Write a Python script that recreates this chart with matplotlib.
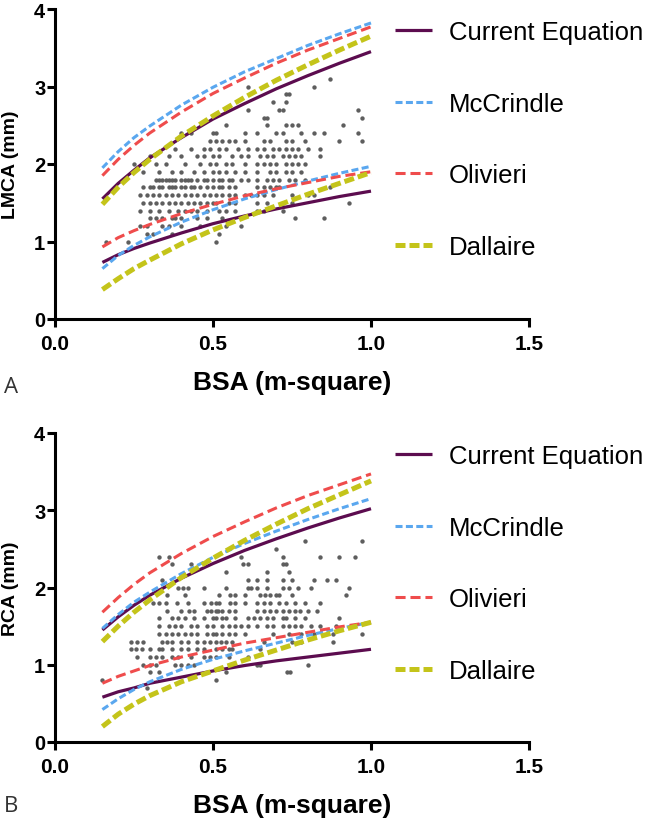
import matplotlib
matplotlib.use("Agg")
import matplotlib.pyplot as plt

plt.rcParams["font.family"] = ["Liberation Sans", "DejaVu Sans"]

# BSA grid where the reference curves were read (m^2)
bsa_grid = [0.15, 0.2, 0.25, 0.3, 0.4, 0.5, 0.6, 0.7, 0.8, 0.9, 1.0]

# Panel A: LMCA (mm), upper / lower limits per equation
lmca_current_up = [1.55, 1.75, 1.92, 2.08, 2.34, 2.58, 2.78, 2.97, 3.14, 3.30, 3.45]
lmca_current_lo = [0.73, 0.83, 0.91, 0.98, 1.11, 1.23, 1.33, 1.42, 1.50, 1.58, 1.65]
lmca_mccrindle_up = [1.95, 2.16, 2.34, 2.49, 2.76, 2.99, 3.19, 3.36, 3.53, 3.68, 3.82]
lmca_mccrindle_lo = [0.65, 0.82, 0.95, 1.06, 1.25, 1.41, 1.55, 1.67, 1.78, 1.88, 1.97]
lmca_olivieri_up = [1.85, 2.06, 2.24, 2.40, 2.67, 2.91, 3.11, 3.30, 3.47, 3.62, 3.77]
lmca_olivieri_lo = [0.93, 1.05, 1.14, 1.22, 1.36, 1.48, 1.59, 1.68, 1.76, 1.84, 1.90]
lmca_dallaire_up = [1.48, 1.70, 1.89, 2.06, 2.36, 2.62, 2.86, 3.08, 3.28, 3.47, 3.65]
lmca_dallaire_lo = [0.38, 0.52, 0.65, 0.76, 0.97, 1.15, 1.31, 1.46, 1.61, 1.75, 1.89]

# Panel B: RCA (mm)
rca_current_up = [1.45, 1.62, 1.77, 1.90, 2.12, 2.31, 2.48, 2.63, 2.77, 2.90, 3.02]
rca_current_lo = [0.58, 0.65, 0.70, 0.76, 0.84, 0.92, 0.99, 1.05, 1.10, 1.15, 1.20]
rca_mccrindle_up = [1.47, 1.65, 1.81, 1.94, 2.18, 2.39, 2.57, 2.73, 2.88, 3.02, 3.15]
rca_mccrindle_lo = [0.42, 0.56, 0.68, 0.78, 0.94, 1.07, 1.18, 1.28, 1.38, 1.47, 1.55]
rca_olivieri_up = [1.68, 1.87, 2.04, 2.19, 2.44, 2.66, 2.85, 3.03, 3.19, 3.33, 3.47]
rca_olivieri_lo = [0.76, 0.85, 0.92, 0.99, 1.10, 1.19, 1.28, 1.35, 1.42, 1.49, 1.55]
rca_dallaire_up = [1.30, 1.50, 1.68, 1.84, 2.13, 2.38, 2.61, 2.82, 3.02, 3.20, 3.38]
rca_dallaire_lo = [0.20, 0.36, 0.49, 0.60, 0.78, 0.92, 1.06, 1.19, 1.32, 1.44, 1.55]

# measured patients: diameter level (mm) -> BSA values on that level
lmca_rows = [
    (3.1, [0.87]),
    (3.0, [0.61, 0.82]),
    (2.9, [0.73, 0.74]),
    (2.8, [0.69, 0.73]),
    (2.7, [0.61, 0.71, 0.72, 0.96]),
    (2.6, [0.66, 0.67, 0.97]),
    (2.5, [0.54, 0.67, 0.73, 0.75, 0.77, 0.91]),
    (2.4, [0.40, 0.43, 0.50, 0.51, 0.60, 0.64, 0.70, 0.72, 0.78, 0.82, 0.85, 0.96]),
    (2.3, [0.49, 0.51, 0.53, 0.55, 0.57, 0.60, 0.66, 0.68, 0.73, 0.75, 0.79, 0.90, 0.97]),
    (2.2, [0.38, 0.43, 0.47, 0.49, 0.52, 0.54, 0.58, 0.61, 0.64, 0.66, 0.69, 0.71,
           0.73, 0.75, 0.77, 0.80, 0.84]),
    (2.1, [0.30, 0.36, 0.40, 0.45, 0.47, 0.50, 0.52, 0.56, 0.59, 0.61, 0.65, 0.67,
           0.69, 0.72, 0.74, 0.76, 0.78, 0.84]),
    (2.0, [0.25, 0.32, 0.35, 0.41, 0.46, 0.49, 0.51, 0.54, 0.56, 0.60, 0.64, 0.66,
           0.68, 0.70, 0.73, 0.75, 0.77, 0.79]),
    (1.9, [0.28, 0.33, 0.37, 0.40, 0.44, 0.47, 0.50, 0.52, 0.54, 0.57, 0.60, 0.64,
           0.68, 0.70, 0.73, 0.75, 0.78]),
    (1.8, [0.32, 0.33, 0.34, 0.35, 0.36, 0.37, 0.38, 0.40, 0.41, 0.42, 0.43, 0.45,
           0.47, 0.48, 0.50, 0.52, 0.53, 0.55, 0.56, 0.59, 0.61, 0.64, 0.67, 0.69,
           0.71, 0.74, 0.76, 0.79]),
    (1.7, [0.28, 0.30, 0.31, 0.33, 0.34, 0.36, 0.37, 0.38, 0.40, 0.41, 0.43, 0.44,
           0.46, 0.48, 0.50, 0.52, 0.53, 0.55, 0.57, 0.64, 0.66, 0.68, 0.70, 0.71, 0.87]),
    (1.6, [0.27, 0.29, 0.31, 0.33, 0.35, 0.37, 0.39, 0.41, 0.43, 0.45, 0.47, 0.49,
           0.51, 0.53, 0.55, 0.57, 0.60, 0.62, 0.64, 0.66, 0.69, 0.75, 0.80, 0.82]),
    (1.5, [0.28, 0.30, 0.32, 0.34, 0.36, 0.38, 0.40, 0.42, 0.44, 0.46, 0.48, 0.50,
           0.51, 0.55, 0.57, 0.64, 0.67, 0.72, 0.75, 0.93]),
    (1.4, [0.27, 0.30, 0.33, 0.36, 0.39, 0.41, 0.43, 0.45, 0.48, 0.52, 0.54, 0.57,
           0.64, 0.66, 0.72]),
    (1.3, [0.30, 0.32, 0.34, 0.37, 0.38, 0.40, 0.45, 0.48, 0.53, 0.76, 0.85]),
    (1.2, [0.27, 0.29, 0.34, 0.36, 0.40, 0.46, 0.54, 0.59]),
    (1.1, [0.29, 0.31, 0.37, 0.52]),
    (1.0, [0.16, 0.23, 0.51]),
]

rca_rows = [
    (2.6, [0.79, 0.97]),
    (2.5, [0.70]),
    (2.4, [0.33, 0.36, 0.59, 0.72, 0.84, 0.90, 0.95]),
    (2.3, [0.37, 0.43, 0.595, 0.61, 0.72, 0.73]),
    (2.2, [0.54, 0.67, 0.74]),
    (2.1, [0.34, 0.61, 0.64, 0.67, 0.72, 0.75, 0.82, 0.86, 0.89]),
    (2.0, [0.39, 0.405, 0.42, 0.47, 0.54, 0.61, 0.62, 0.64, 0.67, 0.72, 0.74, 0.77,
           0.81, 0.93]),
    (1.9, [0.355, 0.41, 0.52, 0.555, 0.57, 0.60, 0.65, 0.665, 0.68, 0.70, 0.71,
           0.75, 0.92]),
    (1.8, [0.31, 0.33, 0.35, 0.385, 0.42, 0.47, 0.495, 0.51, 0.52, 0.555, 0.57,
           0.60, 0.64, 0.66, 0.68, 0.71, 0.73, 0.76, 0.79, 0.84]),
    (1.7, [0.355, 0.40, 0.425, 0.44, 0.48, 0.495, 0.51, 0.515, 0.53, 0.55, 0.57,
           0.64, 0.66, 0.68, 0.70, 0.72, 0.74, 0.76, 0.775, 0.80, 0.83]),
    (1.6, [0.33, 0.37, 0.39, 0.41, 0.44, 0.47, 0.50, 0.51, 0.53, 0.54, 0.57, 0.61,
           0.63, 0.65, 0.67, 0.69, 0.72, 0.73, 0.76, 0.79, 0.90]),
    (1.5, [0.33, 0.36, 0.38, 0.40, 0.43, 0.45, 0.48, 0.50, 0.53, 0.55, 0.57, 0.59,
           0.61, 0.64, 0.67, 0.69, 0.72, 0.74, 0.76, 0.78, 0.81, 0.84, 0.89]),
    (1.4, [0.33, 0.35, 0.37, 0.39, 0.41, 0.43, 0.45, 0.48, 0.50, 0.51, 0.53, 0.55,
           0.57, 0.60, 0.69, 0.74, 0.78, 0.82, 0.88, 0.97]),
    (1.3, [0.24, 0.26, 0.28, 0.34, 0.355, 0.37, 0.40, 0.42, 0.45, 0.47, 0.49, 0.51,
           0.525, 0.54, 0.56, 0.66, 0.75, 0.78, 0.88]),
    (1.2, [0.24, 0.255, 0.275, 0.30, 0.33, 0.34, 0.37, 0.40, 0.42, 0.45, 0.47, 0.51,
           0.53, 0.55, 0.56, 0.65]),
    (1.1, [0.26, 0.30, 0.32, 0.34, 0.37, 0.39, 0.43, 0.47, 0.49, 0.51, 0.55, 0.61]),
    (1.0, [0.28, 0.30, 0.32, 0.38, 0.40, 0.42, 0.44, 0.64, 0.65, 0.80]),
    (0.9, [0.30, 0.33, 0.54, 0.735, 0.745]),
    (0.8, [0.15, 0.51]),
    (0.7, [0.29]),
]

labels = ["Current Equation", "McCrindle", "Olivieri", "Dallaire"]
colors = ["#5c0c4f", "#5aa7ef", "#ef4c4c", "#c4c41a"]
widths = [2.3, 2.2, 2.2, 3.6]
dashes = [None, (2.3, 1.1), (3.3, 1.6), (2.0, 0.8)]


def draw_panel(ax, curves, rows, ylabel, tag, tag_y):
    xs = [x for level, bsa in rows for x in bsa]
    ys = [level for level, bsa in rows for _ in bsa]
    ax.scatter(xs, ys, s=10, color="#5e5e5e", linewidths=0, zorder=1)

    for (up, lo), label, c, lw, d in zip(curves, labels, colors, widths, dashes):
        kw = dict(color=c, lw=lw, solid_capstyle="butt", dash_capstyle="butt", zorder=2)
        if d is not None:
            kw["dashes"] = d
        ax.plot(bsa_grid, up, label=label, **kw)
        ax.plot(bsa_grid, lo, **kw)

    ax.set_xlim(0, 1.5)
    ax.set_ylim(0, 4)
    ax.set_xticks([0.0, 0.5, 1.0, 1.5])
    ax.set_xticklabels(["0.0", "0.5", "1.0", "1.5"])
    ax.set_yticks([0, 1, 2, 3, 4])
    for side in ["top", "right"]:
        ax.spines[side].set_visible(False)
    for side in ["left", "bottom"]:
        ax.spines[side].set_linewidth(2.2)
    ax.tick_params(axis="both", width=2.2, length=6, direction="out")
    ax.tick_params(axis="x", labelsize=15, pad=5)
    ax.tick_params(axis="y", labelsize=14.5, pad=1)
    for t in ax.get_xticklabels() + ax.get_yticklabels():
        t.set_fontweight("bold")

    ax.set_xlabel("BSA (m-square)", fontsize=19, fontweight="bold")
    ax.xaxis.set_label_coords(0.5, -0.165)
    ax.set_ylabel(ylabel, fontsize=14, fontweight="bold")
    ax.yaxis.set_label_coords(-0.075, 0.5)

    ax.legend(loc="upper left", bbox_to_anchor=(0.717, 0.964), frameon=False,
              fontsize=18.5, handlelength=1.45, handletextpad=0.65,
              labelspacing=1.85, borderpad=0, borderaxespad=0)

    ax.figure.text(0.006, tag_y, tag, fontsize=16, family="Open Sans",
                   color="#333333", va="baseline")


fig = plt.figure(figsize=(6.46, 8.2), dpi=100)
ax_a = fig.add_axes([55 / 646, 500 / 820, 474 / 646, 310 / 820])
ax_b = fig.add_axes([55 / 646, 77 / 820, 474 / 646, 309 / 820])

draw_panel(ax_a,
           [(lmca_current_up, lmca_current_lo), (lmca_mccrindle_up, lmca_mccrindle_lo),
            (lmca_olivieri_up, lmca_olivieri_lo), (lmca_dallaire_up, lmca_dallaire_lo)],
           lmca_rows, "LMCA (mm)", "A", (820 - 393) / 820)
draw_panel(ax_b,
           [(rca_current_up, rca_current_lo), (rca_mccrindle_up, rca_mccrindle_lo),
            (rca_olivieri_up, rca_olivieri_lo), (rca_dallaire_up, rca_dallaire_lo)],
           rca_rows, "RCA (mm)", "B", (820 - 812) / 820)

fig.savefig("out.png", dpi=100)
